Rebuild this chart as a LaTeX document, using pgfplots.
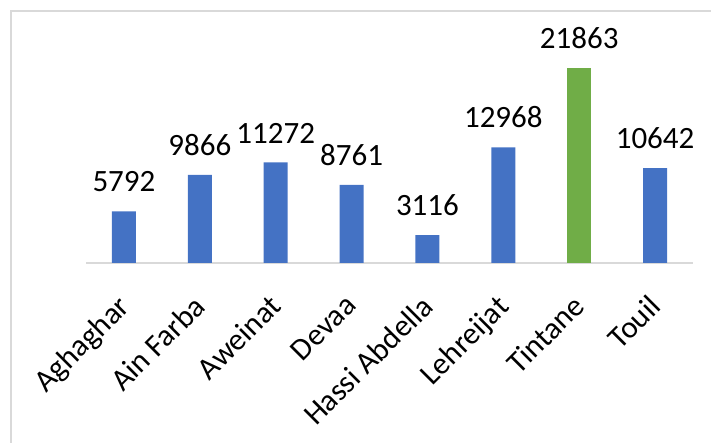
\documentclass[border=0pt]{standalone}
\usepackage{pgfplots}
\pgfplotsset{compat=1.18}
\usepackage{fontspec}
\setmainfont{Carlito}
\definecolor{barblue}{HTML}{4472C4}
\definecolor{bargreen}{HTML}{70AD47}
\definecolor{gridgray}{HTML}{D9D9D9}
\begin{document}
\begin{tikzpicture}[x=1pt,y=1pt]
\useasboundingbox (0,0) rectangle (711,443);
\draw[gridgray, line width=2pt] (11,-20) -- (11,432) -- (730,432);
\begin{axis}[
  scale only axis,
  width=607pt, height=223pt,
  at={(86pt,180pt)}, anchor=south west,
  xmin=-0.5, xmax=7.5, ymin=0, ymax=25000,
  axis line style={draw=none},
  axis x line*=bottom,
  hide y axis,
  ytick=\empty,
  xtick={0,...,7},
  xticklabels={Aghaghar,Ain Farba,Aweinat,Devaa,Hassi Abdella,Lehreijat,Tintane,Touil},
  major tick length=0pt,
  xticklabel style={xshift=-8pt, rotate=45, anchor=north east, inner sep=0pt, font=\fontsize{31}{37}\selectfont},
  xticklabel shift=30pt,
  /pgf/number format/assume math mode=true,
  ybar, bar width=24pt, bar shift=0pt,
  nodes near coords,
  nodes near coords style={font=\fontsize{31}{37}\selectfont, anchor=south, inner sep=0pt, yshift=19pt, /pgf/number format/.cd, fixed, 1000 sep={}, assume math mode=true},
  clip=false,
]
\draw[gridgray, line width=1.5pt] (axis cs:-0.5,0) -- (axis cs:7.5,0);
\addplot[fill=barblue, draw=none] coordinates {(0,5792) (1,9866) (2,11272) (3,8761) (4,3116) (5,12968) (7,10642)};
\addplot[fill=bargreen, draw=none] coordinates {(6,21863)};
\end{axis}
\end{tikzpicture}
\end{document}
